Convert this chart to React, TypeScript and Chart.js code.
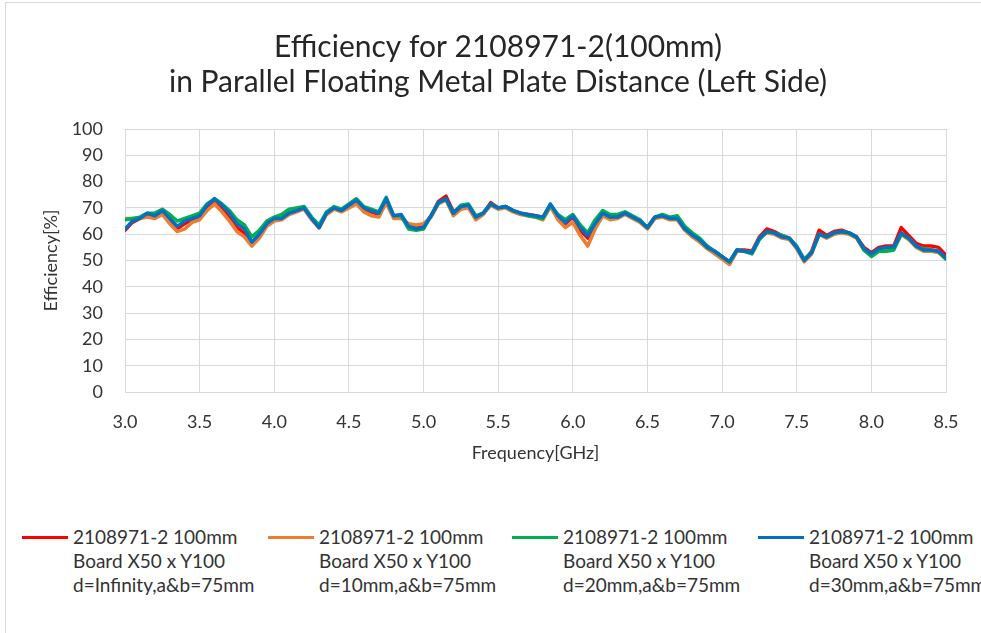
import React, { useEffect, useRef } from "react";
import { Chart, registerables } from "chart.js";

Chart.register(...registerables);

const FREQ = [
  3.0, 3.05, 3.1, 3.15, 3.2, 3.25, 3.3, 3.35, 3.4, 3.45,
  3.5, 3.55, 3.6, 3.65, 3.7, 3.75, 3.8, 3.85, 3.9, 3.95,
  4.0, 4.05, 4.1, 4.15, 4.2, 4.25, 4.3, 4.35, 4.4, 4.45,
  4.5, 4.55, 4.6, 4.65, 4.7, 4.75, 4.8, 4.85, 4.9, 4.95,
  5.0, 5.05, 5.1, 5.15, 5.2, 5.25, 5.3, 5.35, 5.4, 5.45,
  5.5, 5.55, 5.6, 5.65, 5.7, 5.75, 5.8, 5.85, 5.9, 5.95,
  6.0, 6.05, 6.1, 6.15, 6.2, 6.25, 6.3, 6.35, 6.4, 6.45,
  6.5, 6.55, 6.6, 6.65, 6.7, 6.75, 6.8, 6.85, 6.9, 6.95,
  7.0, 7.05, 7.1, 7.15, 7.2, 7.25, 7.3, 7.35, 7.4, 7.45,
  7.5, 7.55, 7.6, 7.65, 7.7, 7.75, 7.8, 7.85, 7.9, 7.95,
  8.0, 8.05, 8.1, 8.15, 8.2, 8.25, 8.3, 8.35, 8.4, 8.45,
  8.5,
];

const D_INFINITY = [
  61.5, 64.5, 66, 67.5, 67, 68.5, 65.5, 62, 64, 65.5,
  66.5, 70, 73, 70, 66.5, 62.5, 60.5, 56.5, 59.5, 63.5,
  65.5, 66, 68, 69, 70, 66, 62.5, 68, 70, 69,
  71, 72.5, 69.5, 68.5, 67.5, 73, 66.5, 67, 63, 62.5,
  63, 67, 72.5, 74.5, 68.5, 70.5, 71, 66.5, 68, 72,
  70, 70.5, 69, 68, 67.5, 67, 66.5, 71, 66.5, 64,
  66.5, 61.5, 58.5, 63.5, 67.5, 66, 66.5, 68, 66.5, 65,
  62.5, 66.5, 67, 66, 66, 62, 59.7, 57.8, 55, 53.5,
  51.5, 49.5, 54, 54, 53.5, 59, 62, 61, 59.5, 58.5,
  55, 50, 53.5, 61.5, 59.5, 61, 61.5, 60.5, 59, 55,
  53, 55, 55.5, 55.5, 62.5, 59.5, 56.5, 55.5, 55.5, 55,
  52,
];

const D_10MM = [
  66, 66, 66, 66.5, 66, 67.5, 64, 61, 62, 64.5,
  65.5, 69, 71.5, 68.5, 65, 61, 59, 55.5, 58.5, 63,
  65, 65.5, 67.5, 68.5, 69.5, 65.5, 62.5, 67.5, 69.5, 68.5,
  70, 71.5, 68.5, 67, 66.5, 72, 66, 66, 64, 63.5,
  64, 66.5, 71.5, 73, 67, 69.5, 70, 65.5, 67.5, 71,
  69.5, 70, 68.5, 67.5, 67, 66.5, 65.5, 70.5, 65.5, 62.5,
  64.5, 59.5, 55.5, 62, 67, 65.5, 66, 67.5, 66, 64.5,
  62, 66, 66.5, 65.5, 65.5, 61.5, 59, 57, 54.5, 52.5,
  50.5, 48.5, 53.5, 53.5, 53, 58.5, 60.5, 60, 58.5, 58,
  54.5, 49.5, 52.5, 60, 58.5, 60, 60.5, 60, 58.5, 54,
  52, 54, 54.5, 54.5, 60, 58, 55, 53.5, 53.5, 53,
  50.5,
];

const D_20MM = [
  65.5, 66, 66.5, 68, 68, 69.5, 67.5, 65, 66, 67,
  68, 71.5, 73.5, 71.5, 69, 65.5, 63.5, 59, 61.5, 65,
  66.5, 67.5, 69.5, 70, 70.5, 66.5, 63.5, 68.5, 70.5, 69.5,
  71.5, 73.5, 70.5, 69.5, 68.5, 74, 67, 67, 62, 61.5,
  62, 67, 72, 73.5, 68, 71, 71.5, 67, 68, 71.5,
  70, 70.5, 69, 68, 67, 66.5, 66, 71, 67.5, 65.5,
  67.5, 63.5, 60.5, 65.5, 69, 67.5, 67.5, 68.5, 67, 65.5,
  62.5, 66.5, 67.5, 66.5, 67, 63, 60.5, 58.5, 55.5, 53.5,
  51.5, 49.5, 54, 53.5, 52.5, 58, 61, 60.5, 59.5, 58.5,
  55.5, 50.5, 53, 60, 59, 60.5, 61, 60.5, 59, 54,
  51.5, 53.5, 53.5, 54, 60, 58.5, 55.5, 54.5, 54, 53.5,
  50.5,
];

const D_30MM = [
  62, 65, 66, 68, 67, 69, 66, 63, 65, 66,
  67, 71, 73.5, 71, 68, 64, 62, 57, 60, 64,
  66, 66, 68, 69, 70, 66, 62.5, 68, 70, 69,
  71, 73, 70, 69, 68, 73.5, 67, 67.5, 63, 62,
  62.5, 67, 72, 73.5, 68, 70.5, 71, 66.5, 68, 71.5,
  70, 70.5, 69, 68, 67.5, 67, 66.5, 71.5, 67, 64.5,
  67, 62.5, 59.5, 64, 68, 66.5, 66.5, 68, 66.5, 65,
  62.5, 66.5, 67, 66, 66, 62, 59.7, 57.8, 55, 53.5,
  51.5, 49.5, 54, 53.5, 53, 58.5, 61, 60.5, 59, 58.5,
  55, 50, 53, 60, 59, 60.5, 61, 60.5, 59, 54.5,
  52.5, 54.5, 55, 55, 60.5, 58.5, 55.5, 54, 54, 53.5,
  51,
];

const SERIES_LABELS = [
  ["2108971-2 100mm", "Board X50 x Y100", "d=Infinity,a&b=75mm"],
  ["2108971-2 100mm", "Board X50 x Y100", "d=10mm,a&b=75mm"],
  ["2108971-2 100mm", "Board X50 x Y100", "d=20mm,a&b=75mm"],
  ["2108971-2 100mm", "Board X50 x Y100", "d=30mm,a&b=75mm"],
];
const SERIES_VALUES = [D_INFINITY, D_10MM, D_20MM, D_30MM];
const SERIES_COLORS = ["#ff0000", "#ed7d31", "#00b050", "#0070c0"];
const SERIES_ORDER = [3, 2, 1, 0];

const TITLE = [
  "Efficiency for 2108971-2(100mm)",
  "in Parallel Floating Metal Plate Distance (Left Side)",
];
const X_TITLE = "Frequency[GHz]";
const Y_TITLE = "Efficiency[%]";

const FONT = "Lato, 'Open Sans', sans-serif";
const GRID = "#d9d9d9";
const TEXT = "#333333";

export default function App() {
  const ref = useRef<HTMLCanvasElement | null>(null);

  useEffect(() => {
    if (!ref.current) return;
    const chart = new Chart(ref.current, {
      type: "line",
      data: {
        datasets: SERIES_VALUES.map((vals, i) => ({
          label: SERIES_LABELS[i].join(" "),
          data: FREQ.map((f, j) => ({ x: f, y: vals[j] })),
          borderColor: SERIES_COLORS[i],
          backgroundColor: SERIES_COLORS[i],
          borderWidth: 3.5,
          pointRadius: 0,
          tension: 0,
          borderJoinStyle: "round" as const,
          borderCapStyle: "round" as const,
          order: SERIES_ORDER[i],
          yAxisID: "y",
        })),
      },
      options: {
        animation: false,
        responsive: false,
        maintainAspectRatio: false,
        layout: { padding: { left: 37, right: 22, top: 10, bottom: 0 } },
        plugins: {
          legend: { display: false },
          tooltip: { enabled: false },
          title: {
            display: true,
            text: TITLE,
            color: "#262626",
            font: { family: FONT, size: 30, weight: "normal", lineHeight: 1.1667 },
            padding: { top: 20, bottom: 29 },
          },
        },
        scales: {
          x: {
            type: "linear",
            min: 3,
            max: 8.5,
            ticks: {
              stepSize: 0.5,
              color: TEXT,
              padding: 19,
              font: { family: FONT, size: 18 },
              callback: (v: any) => Number(v).toFixed(1),
              maxRotation: 0,
            },
            grid: { color: GRID, lineWidth: 1, drawTicks: false },
            border: { color: GRID, width: 1 },
            title: {
              display: true,
              text: X_TITLE,
              color: TEXT,
              font: { family: FONT, size: 18 },
              padding: { top: 4, bottom: 6 },
            },
            afterFit: (s: any) => {
              s.height = 78;
            },
          },
          y: {
            type: "linear",
            position: "left",
            min: 0,
            max: 100,
            ticks: {
              stepSize: 10,
              color: TEXT,
              padding: 22,
              font: { family: FONT, size: 18 },
            },
            grid: { color: GRID, lineWidth: 1, drawTicks: false },
            border: { color: GRID, width: 1 },
            title: {
              display: true,
              text: Y_TITLE,
              color: TEXT,
              font: { family: FONT, size: 18 },
              padding: { top: 3, bottom: 4 },
            },
            afterFit: (s: any) => {
              s.width = 88;
            },
          },
          yRight: {
            type: "linear",
            position: "right",
            display: true,
            min: 0,
            max: 100,
            ticks: { display: false },
            grid: { display: false },
            border: { display: false },
            afterFit: (s: any) => {
              s.width = 13;
            },
          },
        },
      },
    });
    return () => chart.destroy();
  }, []);

  const legendLeft = [22, 268, 512, 758];

  return (
    <div
      style={{
        position: "fixed",
        left: 0,
        top: 0,
        width: 981,
        height: 633,
        background: "#ffffff",
        overflow: "hidden",
      }}
    >
      <div
        style={{
          position: "absolute",
          left: 5,
          top: 2,
          width: 1100,
          height: 800,
          border: "1px solid #d9d9d9",
          boxSizing: "border-box",
        }}
      />
      <canvas
        ref={ref}
        width={981}
        height={470}
        style={{ position: "absolute", left: 0, top: 0, width: 981, height: 470 }}
      />
      {SERIES_LABELS.map((lines, i) => (
        <div
          key={i}
          style={{
            position: "absolute",
            left: legendLeft[i],
            top: 525,
            display: "flex",
            alignItems: "flex-start",
            fontFamily: FONT,
            fontSize: 19,
            lineHeight: "24px",
            color: TEXT,
            whiteSpace: "nowrap",
          }}
        >
          <div
            style={{
              width: 46,
              height: 3,
              background: SERIES_COLORS[i],
              marginTop: 11,
              marginRight: 5,
            }}
          />
          <div>
            {lines.map((t, k) => (
              <div key={k}>{t}</div>
            ))}
          </div>
        </div>
      ))}
    </div>
  );
}
